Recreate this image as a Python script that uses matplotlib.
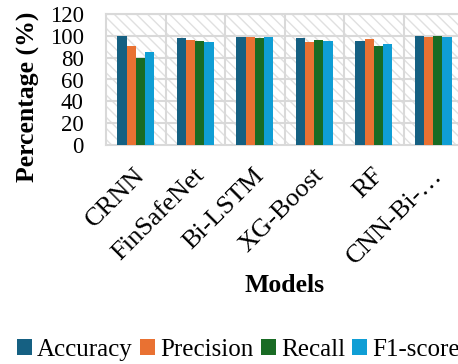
import numpy as np
import matplotlib.pyplot as plt
from matplotlib.patches import Rectangle
from matplotlib.transforms import ScaledTranslation

plt.rcParams['font.family'] = ['Liberation Serif', 'DejaVu Serif']
plt.rcParams['hatch.linewidth'] = 1.0

models = ['CRNN', 'FinSafeNet', 'Bi-LSTM', 'XG-Boost', 'RF', 'CNN-Bi-…']
accuracy = [99.8, 98.0, 98.9, 97.7, 95.6, 99.8]
precision = [91.0, 96.2, 99.0, 94.3, 96.8, 99.0]
recall = [80.0, 95.6, 97.7, 96.0, 91.0, 99.5]
f1_score = [85.0, 94.3, 99.0, 95.0, 92.8, 99.0]

series = [('Accuracy', accuracy, '#156082'),
          ('Precision', precision, '#E97132'),
          ('Recall', recall, '#196B24'),
          ('F1-score', f1_score, '#0F9ED5')]

fig = plt.figure(figsize=(4.58, 3.64), dpi=100)
ax = fig.add_axes([106/458, 1 - 145/364, 357/458, 131/364])

# hatched plot area
ax.add_patch(Rectangle((0, 0), 1, 1, transform=ax.transAxes, facecolor='white',
                       edgecolor='#e0e0e0', hatch='\\\\\\', linewidth=0, zorder=0))

x = np.arange(len(models))
w = 0.155
for i, (name, vals, col) in enumerate(series):
    ax.bar(x + (i - 1.5) * w, vals, w, color=col, label=name, zorder=3)

ax.set_xlim(-0.5, len(models) - 0.5)
ax.set_ylim(0, 120)
ax.set_yticks(range(0, 121, 20))
ax.set_xticks(x)
ax.set_xticklabels(models, rotation=45, ha='right', rotation_mode='anchor')

# gridlines: horizontal at ticks, vertical between categories
for yv in range(20, 121, 20):
    ax.axhline(yv, color='#d9d9d9', lw=1.5, zorder=1)
for xv in np.arange(0.5, len(models) - 0.5, 1):
    ax.axvline(xv, color='#d9d9d9', lw=1.5, zorder=1)

for s in ax.spines.values():
    s.set_color('#d9d9d9')
    s.set_linewidth(1.5)
ax.spines['right'].set_visible(False)
ax.tick_params(axis='y', length=0, pad=16, labelsize=16.5)
ax.tick_params(axis='x', length=0, pad=14, labelsize=19)
for lbl in ax.get_xticklabels():
    lbl.set_transform(lbl.get_transform() + ScaledTranslation(-2/100, 0, fig.dpi_scale_trans))

ax.set_xlabel('Models', fontsize=18.5, fontweight='bold', va='center')
ax.xaxis.set_label_coords(0.5, (145 - 286) / 131)
fig.text(28/458, 1 - 97/364, 'Percentage (%)', rotation=90, fontsize=18.5,
         fontweight='bold', ha='center', va='center')

fig.legend(loc='center left', bbox_to_anchor=(0.015, 1 - 350/364), ncol=4,
           frameon=False, fontsize=18, handlelength=0.6, handleheight=0.6,
           handletextpad=0.2, columnspacing=0.3, borderaxespad=0)

fig.savefig('out.png', dpi=100)
